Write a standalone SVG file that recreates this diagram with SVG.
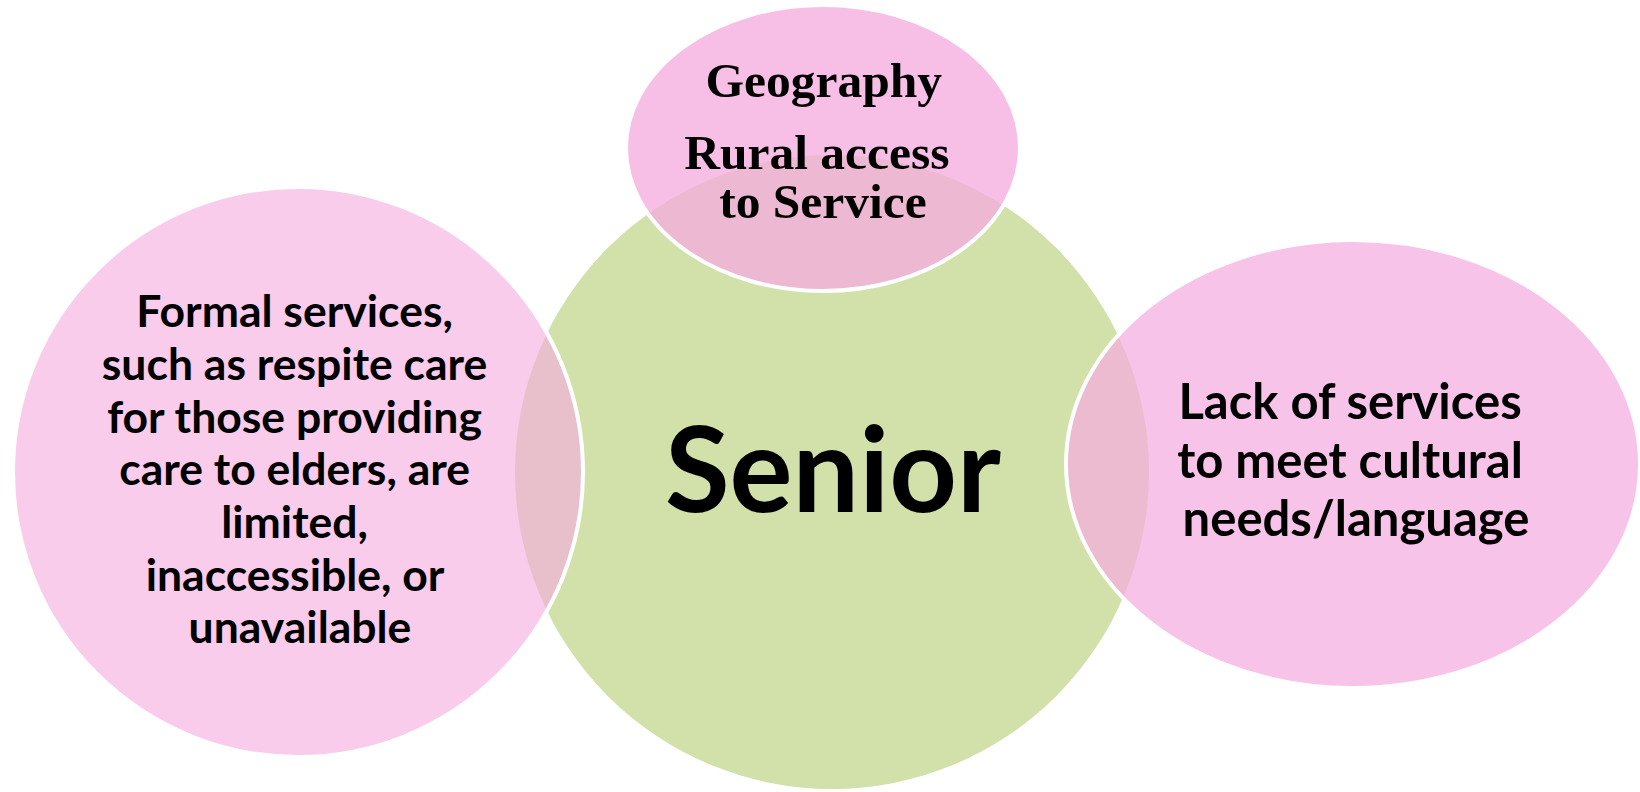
<svg xmlns="http://www.w3.org/2000/svg" width="1640" height="792" viewBox="0 0 1640 792">
<style>
.bg{fill:#FFFFFF}
.core{fill:#D2E0AA}
.petal{fill:#F5ACDF;stroke:#FFFFFF;stroke-width:4}
.sans{font-family:Lato,"Open Sans","Liberation Sans",sans-serif;font-weight:700;fill:#000000;text-anchor:middle}
.serif{font-family:"Liberation Serif","DejaVu Serif",serif;font-weight:700;fill:#000000;text-anchor:middle}
</style>
<rect class="bg" x="0" y="0" width="1640" height="792"/>
<g id="node-senior">
<circle class="core" cx="832" cy="472" r="317"/>
<text class="sans" x="833" y="512" font-size="118">Senior</text>
</g>
<g id="node-formal-services">
<circle class="petal" cx="298" cy="472" r="285" fill-opacity="0.62"/>
<text class="sans" font-size="44.5">
<tspan x="300" y="327">Formal services,</tspan>
<tspan x="300" y="380">such as respite care</tspan>
<tspan x="300" y="433">for those providing</tspan>
<tspan x="300" y="485">care to elders, are</tspan>
<tspan x="300" y="538">limited,</tspan>
<tspan x="300" y="591">inaccessible, or</tspan>
<tspan x="300" y="643">unavailable</tspan>
</text>
</g>
<g id="node-geography">
<ellipse class="petal" cx="823" cy="148" rx="197" ry="143" fill-opacity="0.77"/>
<text class="serif" font-size="49.5">
<tspan x="830" y="97">Geography</tspan>
<tspan x="823" y="169">Rural access</tspan>
<tspan x="823" y="218">to Service</tspan>
</text>
</g>
<g id="node-cultural">
<ellipse class="petal" cx="1353" cy="464" rx="287" ry="224" fill-opacity="0.72"/>
<text class="sans" font-size="49">
<tspan x="1356" y="419">Lack of services</tspan>
<tspan x="1356" y="478">to meet cultural</tspan>
<tspan x="1356" y="536">needs/language</tspan>
</text>
</g>
<g id="connectors"></g>
</svg>
